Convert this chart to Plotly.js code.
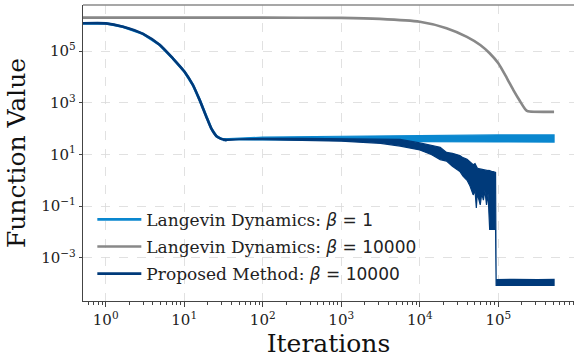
<!DOCTYPE html>
<html>
<head>
<meta charset="utf-8">
<script src="https://cdn.plot.ly/plotly-3.0.1.min.js"></script>
<style>html,body{margin:0;padding:0;background:#fff}#chart{width:574px;height:358px}</style>
</head>
<body>
<div id="chart"></div>
<script>
// ---- data ----
// Langevin Dynamics beta=1 : early (hidden) decay and noisy plateau band
const lightEarlyIter = [0.5, 1, 1.66, 2.99, 4.9, 7.2, 10.1, 12.9, 15.7, 19.1, 22.1, 25.7, 29.5, 34.7];
const lightEarlyVal  = [1.2e6, 1.2e6, 8.9e5, 4.7e5, 1.74e5, 5.2e4, 1.6e4, 4.9e3, 1.3e3, 290, 102, 51, 40, 35.5];
const lightBandIter  = [31.6, 100, 1000, 10000, 100000, 513000];
const lightBandUpper = [40.5, 46.5, 50.5, 55, 57, 57];
const lightBandLower = [37.0, 38.0, 36.5, 31.5, 30.5, 30.0];

// Langevin Dynamics beta=10000
const grayIter = [0.5, 100, 1000, 3090, 10000, 21900, 39800, 58900, 77600, 100000, 129000, 155000, 191000, 219000, 229000, 251000, 513000];
const grayVal  = [2.0e6, 2.0e6, 1.95e6, 1.78e6, 1.38e6, 7.8e5, 3.6e5, 1.74e5, 8.3e4, 3.4e4, 8.9e3, 3.2e3, 1.1e3, 575, 500, 457, 447];

// Proposed Method beta=10000 : smooth early decay and noisy band
const darkEarlyIter = [0.5, 1, 1.66, 2.99, 4.9, 7.2, 10.1, 12.9, 15.7, 19.1, 22.1, 25.7, 29.5, 34.7];
const darkEarlyVal  = [1.2e6, 1.2e6, 8.9e5, 4.7e5, 1.74e5, 5.2e4, 1.6e4, 4.9e3, 1.3e3, 290, 102, 51, 40, 35.5];
const darkBandIter  = [31.6, 50, 100, 316, 1000, 3160, 5620, 10000, 14000, 18200, 21900, 26000, 32400, 35500, 40000, 43600, 47900, 50500, 52500, 54000, 56200, 58900, 61500, 64600, 67500, 70800, 74100, 76000, 77600, 82000, 86000, 91200, 92300, 93800, 158000, 316000, 513000];
const darkBandUpper = [38.5, 40.5, 41.5, 41.5, 41.0, 40.0, 38.0, 28.0, 23.0, 19.0, 12.0, 11.0, 9.0, 7.5, 6.5, 5.0, 4.0, 4.4, 3.2, 3.0, 2.8, 2.7, 2.75, 2.6, 2.55, 2.4, 2.35, 2.4, 2.3, 2.2, 2.15, 2.05, 2.0, 1.4e-4, 1.45e-4, 1.4e-4, 1.45e-4];
const darkBandLower = [34.0, 37.0, 37.0, 35.5, 32.5, 27.0, 21.0, 15.0, 10.0, 6.3, 5.5, 3.5, 2.2, 1.45, 1.0, 0.6, 0.27, 0.4, 0.085, 0.3, 0.2, 0.11, 0.3, 0.17, 0.4, 0.11, 0.3, 0.05, 0.0125, 0.013, 0.0125, 0.0125, 0.0125, 8.4e-5, 8.6e-5, 8.3e-5, 8.4e-5];

// tick labels
const xTickVals = [1, 10, 100, 1000, 10000, 100000];
const xTickText = ['10<sup>0</sup>', '10<sup>1</sup>', '10<sup>2</sup>', '10<sup>3</sup>', '10<sup>4</sup>', '10<sup>5</sup>'];
const yTickVals = [1e-3, 1e-1, 10, 1e3, 1e5];
const yTickText = ['10<sup>\u22123</sup>', '10<sup>\u22121</sup>', '10<sup>1</sup>', '10<sup>3</sup>', '10<sup>5</sup>'];

const names = [
  'Langevin Dynamics: <span style="font-family:DejaVu Sans"><i>β</i> = 1</span>',
  'Langevin Dynamics: <span style="font-family:DejaVu Sans"><i>β</i> = 10000</span>',
  'Proposed Method: <span style="font-family:DejaVu Sans"><i>β</i> = 10000</span>'
];

const cLight = '#0a87cf', cGray = '#888888', cDark = '#003a7a';

function band(iter, up, lo) {
  return {x: iter.concat(iter.slice().reverse()), y: up.concat(lo.slice().reverse())};
}
const lb = band(lightBandIter, lightBandUpper, lightBandLower);
const db = band(darkBandIter, darkBandUpper, darkBandLower);

const data = [
  {x: lightEarlyIter, y: lightEarlyVal, mode: 'lines', name: names[0], legendgroup: 'a',
   line: {color: cLight, width: 2.6}},
  {x: lb.x, y: lb.y, mode: 'lines', fill: 'toself', fillcolor: cLight, legendgroup: 'a', showlegend: false,
   line: {color: cLight, width: 1.2}, hoverinfo: 'skip'},
  {x: grayIter, y: grayVal, mode: 'lines', name: names[1], legendgroup: 'b',
   line: {color: cGray, width: 2.6, shape: 'spline', smoothing: 0.6}},
  {x: darkEarlyIter, y: darkEarlyVal, mode: 'lines', name: names[2], legendgroup: 'c',
   line: {color: cDark, width: 2.6, shape: 'spline', smoothing: 0.6}},
  {x: db.x, y: db.y, mode: 'lines', fill: 'toself', fillcolor: cDark, legendgroup: 'c', showlegend: false,
   line: {color: cDark, width: 1.2}, hoverinfo: 'skip'}
];

const layout = {
  width: 574, height: 358,
  margin: {l: 83, r: 0, t: 5, b: 57},
  paper_bgcolor: '#fff', plot_bgcolor: '#fff',
  font: {family: 'DejaVu Serif', color: '#222'},
  showlegend: true,
  legend: {x: 0.019, y: 0.335, xanchor: 'left', yanchor: 'top', bgcolor: 'rgba(0,0,0,0)',
           font: {family: 'DejaVu Serif', size: 17, color: '#222'}, traceorder: 'grouped',
           tracegroupgap: 2, itemwidth: 44},
  xaxis: {type: 'log', range: [-0.289, 5.964], tickmode: 'array', tickvals: xTickVals, ticktext: xTickText,
          ticks: 'outside', ticklen: 5, tickcolor: '#444', showline: true, linecolor: '#444', linewidth: 1.2,
          showgrid: true, gridcolor: '#dadada', griddash: 'dash', gridwidth: 0.8, zeroline: false,
          tickfont: {family: 'DejaVu Serif', size: 15, color: '#222'},
          minor: {dtick: 'D1', ticks: 'outside', ticklen: 2.5, tickcolor: '#444', showgrid: false},
          title: {text: 'Iterations', font: {family: 'DejaVu Serif', size: 25, color: '#111'}, standoff: 2}},
  yaxis: {type: 'log', range: [-4.68, 6.79], tickmode: 'array', tickvals: yTickVals, ticktext: yTickText,
          ticks: 'outside', ticklen: 3, tickcolor: '#444', showline: true, linecolor: '#444', linewidth: 1.2,
          showgrid: true, gridcolor: '#dadada', griddash: 'dash', gridwidth: 0.8, zeroline: false,
          tickfont: {family: 'DejaVu Serif', size: 15, color: '#222'},
          title: {text: 'Function Value', font: {family: 'DejaVu Serif', size: 25, color: '#111'}, standoff: 8}},
  shapes: [{type: 'line', xref: 'paper', yref: 'paper', x0: 0, x1: 1, y0: 1, y1: 1,
            line: {color: '#8a8a8a', width: 1.5}}]
};

Plotly.newPlot('chart', data, layout, {staticPlot: true, displayModeBar: false});
</script>
</body>
</html>
